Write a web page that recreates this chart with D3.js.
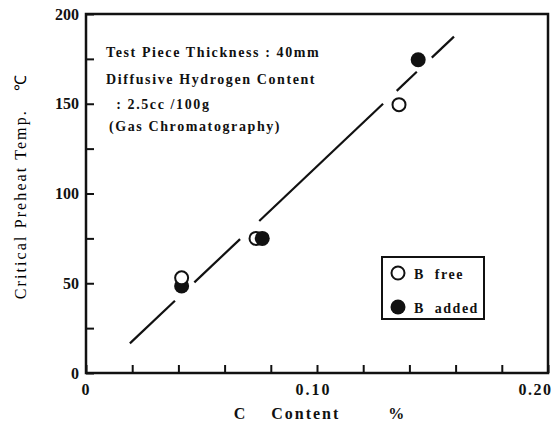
<!DOCTYPE html>
<html>
<head>
<meta charset="utf-8">
<script src="https://cdn.jsdelivr.net/npm/d3@7"></script>
<style>
  body { margin: 0; background: #fff; }
  text { font-family: "Liberation Serif", "Times New Roman", serif; fill: #111; }
</style>
</head>
<body>
<script>
// values
const yTicks = [0, 25, 50, 75, 100, 125, 150, 175, 200]
const yLabels = [0, 50, 100, 150, 200]
const xTicks = [0, 0.02, 0.04, 0.06, 0.08, 0.10, 0.12, 0.14, 0.16, 0.18, 0.20]
const xLabels = { 0: '0', 0.1: '0.10', 0.2: '0.20' }

const bFreeC = [0.0414, 0.0736, 0.1355]
const bFreeT = [53, 75, 149.5]
const bAddedC = [0.0414, 0.0763, 0.1438]
const bAddedT = [48.5, 75, 174.5]

// fitted line, drawn in broken pieces (C ranges)
const fitStart = [0.019, 16.5]
const fitEnd = [0.1593, 187.4]
const fitPieces = [[0.019, 0.0385], [0.0469, 0.0667], [0.075, 0.1286], [0.1345, 0.1432], [0.1497, 0.1593]]

const notes = ['Test Piece Thickness : 40mm', 'Diffusive Hydrogen Content', '  : 2.5cc /100g', '(Gas Chromatography)']

const width = 554, height = 423

const svg = d3.select('body').append('svg')
  .attr('width', width)
  .attr('height', height)

const x = d3.scaleLinear().domain([0, 0.2]).range([86, 548])
const y = d3.scaleLinear().domain([0, 200]).range([373, 14])

// frame
svg.append('rect')
  .attr('x', x(0)).attr('y', y(200))
  .attr('width', x(0.2) - x(0)).attr('height', y(0) - y(200))
  .attr('fill', 'none').attr('stroke', '#111').attr('stroke-width', 2.5)

const yAxis = svg.append('g')
  .attr('transform', 'translate(' + x(0) + ',0)')
  .call(d3.axisLeft(y).tickValues(yTicks).tickSize(-8).tickPadding(7)
    .tickFormat(d => yLabels.includes(d) ? d : ''))
yAxis.select('.domain').remove()
yAxis.selectAll('line').attr('stroke', '#111').attr('stroke-width', 2)
yAxis.selectAll('text')
  .style('font-size', '16px').style('font-weight', 'bold').attr('fill', '#111')

const xAxis = svg.append('g')
  .attr('transform', 'translate(0,' + y(0) + ')')
  .call(d3.axisBottom(x).tickValues(xTicks).tickSize(-8).tickPadding(11)
    .tickFormat(d => xLabels[Math.round(d * 100) / 100] || ''))
xAxis.select('.domain').remove()
xAxis.selectAll('line').attr('stroke', '#111').attr('stroke-width', 2)
xAxis.selectAll('text')
  .style('font-size', '16px').style('font-weight', 'bold').style('letter-spacing', '2px').attr('fill', '#111')
xAxis.selectAll('.tick').filter(d => d > 0.09 && d < 0.11).select('text')
  .attr('x', -4)
xAxis.selectAll('.tick').filter(d => d > 0.19).select('text')
  .style('letter-spacing', '1.5px')
  .attr('text-anchor', 'end').attr('x', 4)

// axis titles
svg.append('text')
  .attr('transform', 'translate(20,186)rotate(-90)')
  .attr('text-anchor', 'middle')
  .attr('dominant-baseline', 'central')
  .style('font-size', '16px')
  .style('letter-spacing', '2.1px')
  .style('white-space', 'pre')
  .style('fill', '#000')
  .text('Critical Preheat Temp.   \u2103')

svg.append('text')
  .attr('x', 320).attr('y', 419)
  .attr('text-anchor', 'middle')
  .style('font-size', '16px').style('font-weight', 'bold')
  .style('letter-spacing', '2px')
  .style('white-space', 'pre')
  .text('C    Content        %')

// notes
svg.append('g').selectAll('text')
  .data(notes)
  .enter().append('text')
  .attr('x', (d, i) => i === 3 ? 109 : 106)
  .attr('y', (d, i) => [57, 84, 109, 131][i])
  .style('font-size', '14px').style('font-weight', 'bold')
  .style('letter-spacing', '1.6px')
  .style('white-space', 'pre')
  .text(d => d)

// fitted line
const fitY = c => fitStart[1] + (c - fitStart[0]) * (fitEnd[1] - fitStart[1]) / (fitEnd[0] - fitStart[0])
svg.append('g').selectAll('line')
  .data(fitPieces)
  .enter().append('line')
  .attr('x1', d => x(d[0])).attr('y1', d => y(fitY(d[0])))
  .attr('x2', d => x(d[1])).attr('y2', d => y(fitY(d[1])))
  .attr('stroke', '#111').attr('stroke-width', 2.2)

// points, drawn in order of C then temperature
const points = bFreeC.map((c, i) => ({ c: c, t: bFreeT[i], filled: false }))
  .concat(bAddedC.map((c, i) => ({ c: c, t: bAddedT[i], filled: true })))
const ordered = d3.sort(points, (a, b) => a.c - b.c || a.t - b.t)

svg.append('g').selectAll('circle')
  .data(ordered)
  .enter().append('circle')
  .attr('cx', d => x(d.c)).attr('cy', d => y(d.t))
  .attr('r', d => d.filled ? 7.5 : 6.5)
  .attr('fill', d => d.filled ? '#111' : '#fff')
  .attr('stroke', '#111').attr('stroke-width', d => d.filled ? 0 : 2)

// legend
const legend = svg.append('g').attr('transform', 'translate(382,257)')
legend.append('rect')
  .attr('width', 102).attr('height', 62)
  .attr('fill', '#fff').attr('stroke', '#111').attr('stroke-width', 2)
const legendItems = [{ label: 'B free', filled: false }, { label: 'B added', filled: true }]
const li = legend.selectAll('.item')
  .data(legendItems)
  .enter().append('g')
  .attr('transform', (d, i) => 'translate(16,' + (16 + i * 34) + ')')
li.append('circle')
  .attr('r', d => d.filled ? 7.5 : 6.5)
  .attr('fill', d => d.filled ? '#111' : '#fff')
  .attr('stroke', '#111').attr('stroke-width', d => d.filled ? 0 : 2)
li.append('text')
  .attr('x', 16).attr('y', 6)
  .style('font-size', '14px').style('font-weight', 'bold')
  .style('letter-spacing', '1.5px')
  .style('white-space', 'pre')
  .text(d => d.label.replace(' ', '  '))
</script>
</body>
</html>
